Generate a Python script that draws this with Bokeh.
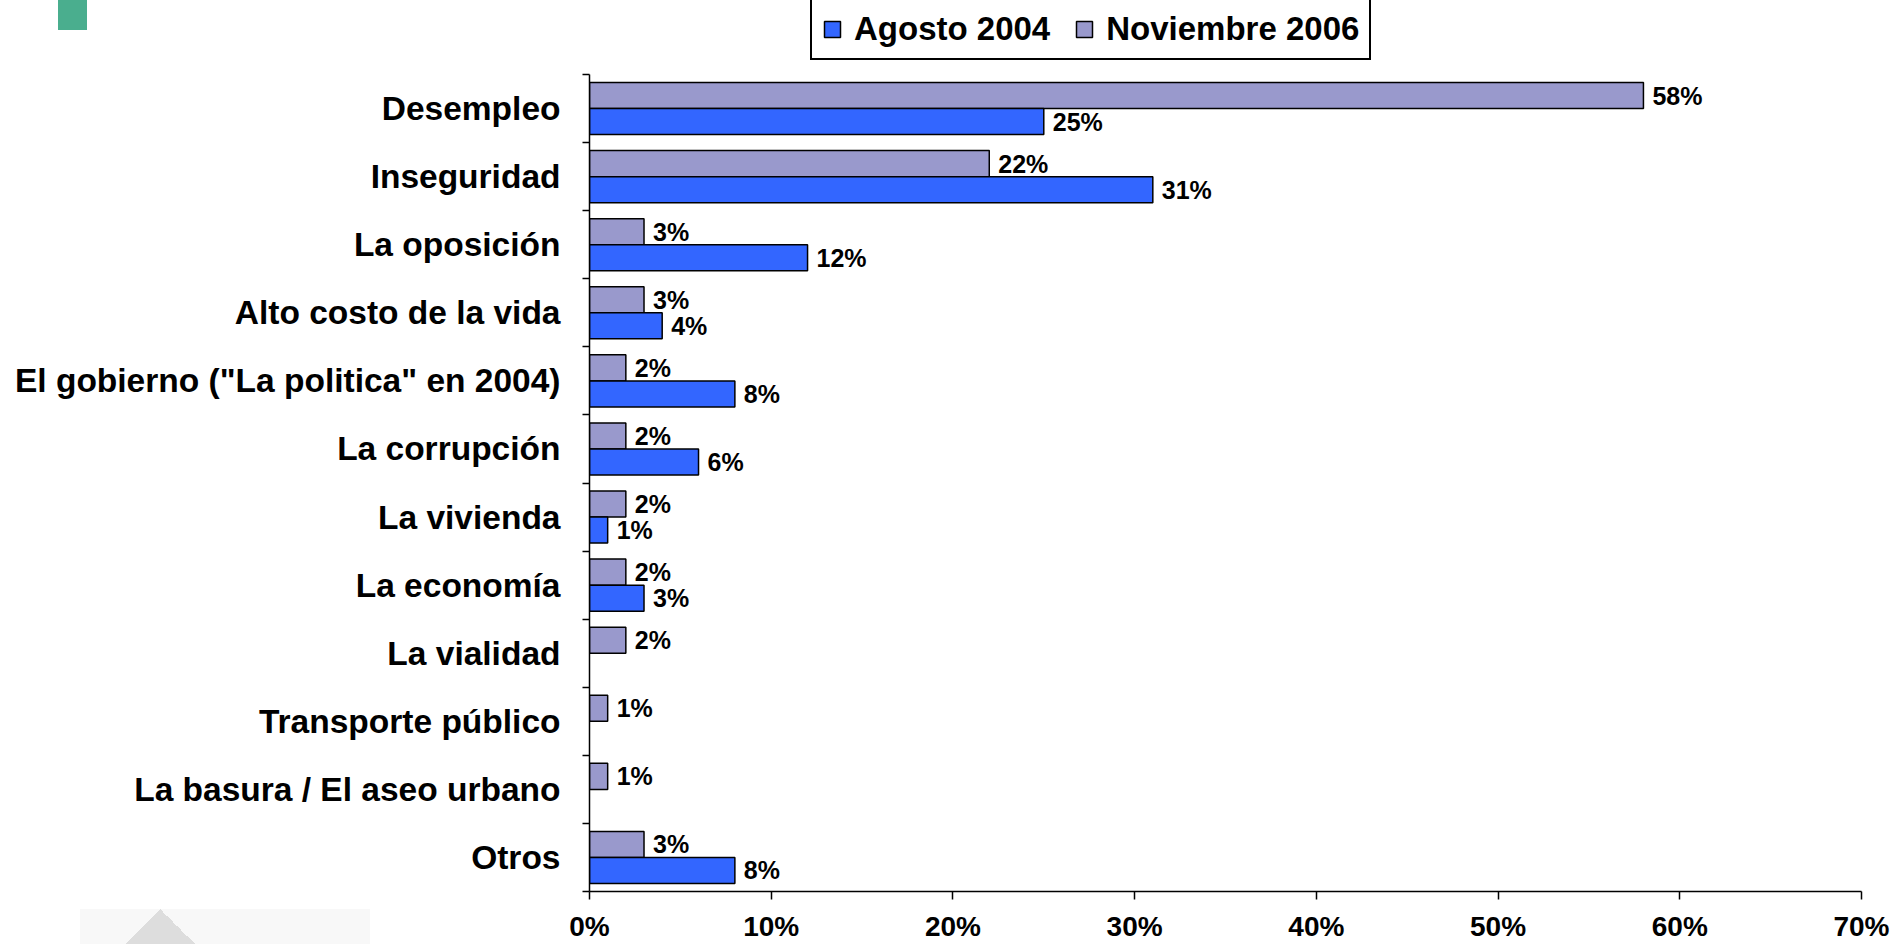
from bokeh.plotting import figure
from bokeh.models import (Range1d, LinearAxis, FixedTicker, ColumnDataSource, Legend,
                          LegendItem, InlineStyleSheet)
from bokeh.core.properties import value
from bokeh.embed import file_html
from bokeh.resources import INLINE

# ---------------- data ----------------
categories = ["Desempleo", "Inseguridad", "La oposición", "Alto costo de la vida",
              'El gobierno ("La politica" en 2004)', "La corrupción", "La vivienda",
              "La economía", "La vialidad", "Transporte público",
              "La basura / El aseo urbano", "Otros"]
agosto_2004 = [25, 31, 12, 4, 8, 6, 1, 3, None, None, None, 8]
noviembre_2006 = [58, 22, 3, 3, 2, 2, 2, 2, 2, 1, 1, 3]
series_names = ["Agosto 2004", "Noviembre 2006"]
x_ticks = [0, 10, 20, 30, 40, 50, 60, 70]
x_tick_labels = ["0%", "10%", "20%", "30%", "40%", "50%", "60%", "70%"]

# ---------------- style / layout ----------------
FONT = "Liberation Sans"
BLUE = "#3366FF"
PURPLE = "#9999CC"
BAR_H = 0.382
n = len(categories)
W, H = 1897, 944
FRAME_LEFT, FRAME_RIGHT_PAD, FRAME_BOTTOM_PAD = 589, 36, 53
AXIS_TOP_PX = 74                      # where the category axis starts (px from top)
frame_h = H - FRAME_BOTTOM_PAD
unit_px = (frame_h - AXIS_TOP_PX) / n
top_extra = AXIS_TOP_PX / unit_px     # headroom (in category units) for the legend

def build(vals, off):
    xs, ys, ts = [], [], []
    for i, v in enumerate(vals):
        if v is None:
            continue
        xs.append(v)
        ys.append((n - 1 - i) + off)
        ts.append(f"{v}%")
    return ColumnDataSource(dict(x=xs, y=ys, t=ts))

src_a = build(agosto_2004, -BAR_H / 2)
src_n = build(noviembre_2006, BAR_H / 2)

# decorative corner marks of the original slide (not data)
deco_css = InlineStyleSheet(css="""
:host::before { content: ""; position: absolute; left: 58px; top: 0px; width: 29px; height: 30px;
  background: #4aae8e; z-index: 10; pointer-events: none; }
:host::after { content: ""; position: absolute; left: 80px; top: 909px; width: 290px; height: 35px;
  background: conic-gradient(from 135deg at 80px 0px, #dddddd 0deg 90deg, #f8f8f8 90deg 360deg);
  z-index: 10; pointer-events: none; }
""")

p = figure(width=W, height=H, x_range=Range1d(0, 70),
           y_range=Range1d(-0.5, n - 0.5 + top_extra),
           output_backend="svg", toolbar_location=None,
           x_axis_location=None, y_axis_location=None,
           min_border_left=FRAME_LEFT, min_border_right=FRAME_RIGHT_PAD,
           min_border_top=0, min_border_bottom=FRAME_BOTTOM_PAD,
           stylesheets=[deco_css])
p.outline_line_color = None
p.grid.visible = False
p.background_fill_color = "white"

r_n = p.hbar(y="y", right="x", left=0, height=BAR_H, source=src_n,
             fill_color=PURPLE, line_color="black", line_width=1.5)
r_a = p.hbar(y="y", right="x", left=0, height=BAR_H, source=src_a,
             fill_color=BLUE, line_color="black", line_width=1.5)

for src in (src_n, src_a):
    p.text(x="x", y="y", text="t", source=src, x_offset=9,
           text_baseline="middle", text_align="left",
           text_font=value(FONT), text_font_style="bold", text_font_size="25px",
           text_color="black")

# x axis
xax = LinearAxis(ticker=FixedTicker(ticks=x_ticks),
                 major_label_overrides={t: l for t, l in zip(x_ticks, x_tick_labels)})
xax.axis_line_width = 1.5
xax.axis_line_color = "black"
xax.major_tick_out = 8
xax.major_tick_in = 0
xax.major_tick_line_width = 1.5
xax.minor_tick_line_color = None
xax.major_label_text_font = FONT
xax.major_label_text_font_style = "bold"
xax.major_label_text_font_size = "28px"
xax.major_label_text_color = "black"
xax.major_label_standoff = 11
p.add_layout(xax, "below")

# y axis with ticks between categories
bounds = [i - 0.5 for i in range(n + 1)]
yax1 = LinearAxis(ticker=FixedTicker(ticks=bounds), bounds=(-0.5, n - 0.5),
                  major_label_overrides={b: "" for b in bounds})
yax1.axis_line_width = 1.5
yax1.axis_line_color = "black"
yax1.major_tick_out = 7
yax1.major_tick_in = 0
yax1.major_tick_line_width = 1.5
yax1.minor_tick_line_color = None
yax1.major_label_text_font_size = "0px"
yax1.major_label_standoff = 0
p.add_layout(yax1, "left")

# y axis carrying the category names
centers = list(range(n))
yax2 = LinearAxis(ticker=FixedTicker(ticks=centers),
                  major_label_overrides={n - 1 - i: c for i, c in enumerate(categories)})
yax2.axis_line_color = None
yax2.major_tick_line_color = None
yax2.minor_tick_line_color = None
yax2.major_tick_out = 0
yax2.major_tick_in = 0
yax2.major_label_text_font = FONT
yax2.major_label_text_font_style = "bold"
yax2.major_label_text_font_size = "33.5px"
yax2.major_label_text_color = "black"
yax2.major_label_standoff = 22
p.add_layout(yax2, "left")

legend = Legend(items=[LegendItem(label=series_names[0], renderers=[r_a]),
                       LegendItem(label=series_names[1], renderers=[r_n])],
                orientation="horizontal", location=(221, frame_h - 60),
                border_line_color="black", border_line_width=2, border_line_alpha=1,
                padding=10, spacing=24, glyph_width=20, glyph_height=20, label_standoff=12,
                label_text_font=FONT, label_text_font_style="bold", label_text_font_size="33px",
                label_text_color="black", background_fill_color="white", background_fill_alpha=1,
                margin=0)
p.add_layout(legend, "center")

open("out.html", "w").write(file_html(p, INLINE))
